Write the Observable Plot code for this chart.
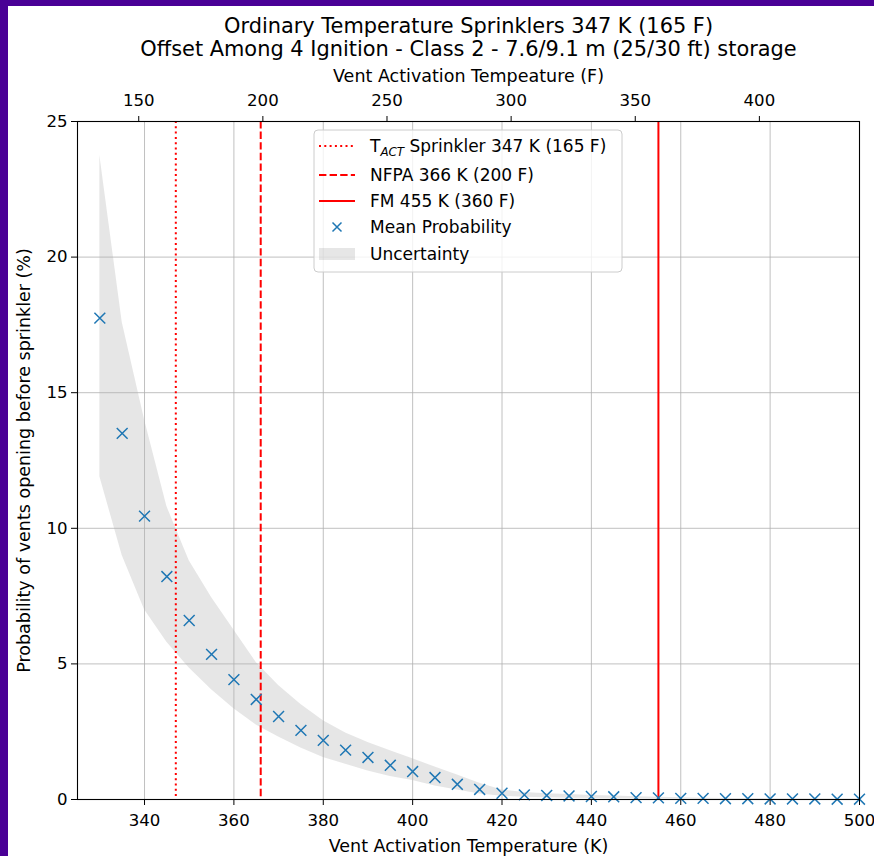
<!DOCTYPE html>
<html>
<head>
<meta charset="utf-8">
<script src="https://cdn.jsdelivr.net/npm/d3@7"></script>
<script src="https://cdn.jsdelivr.net/npm/@observablehq/plot@0.6"></script>
<style>
  html, body { margin: 0; padding: 0; background: #4a0096; }
  #c { position: absolute; left: 8px; top: 6px; width: 866px; height: 850px; background: white; overflow: hidden; }
  svg { font-family: "DejaVu Sans", sans-serif; }
</style>
</head>
<body>
<div id="c"></div>
<script>
// Vent activation temperature (K)
const tempK = [330,335,340,345,350,355,360,365,370,375,380,385,390,395,400,405,410,415,420,425,430,435,440,445,450,455,460,465,470,475,480,485,490,495,500];
// Mean probability (%)
const meanProb = [17.75,13.5,10.45,8.22,6.6,5.35,4.42,3.69,3.06,2.55,2.18,1.82,1.55,1.26,1.03,0.81,0.56,0.37,0.23,0.17,0.15,0.13,0.11,0.1,0.07,0.06,0.04,0.04,0.03,0.03,0.02,0.02,0.02,0.01,0.01];
// Uncertainty band upper / lower (%)
const upperProb = [23.75,17.6,14.0,10.8,8.8,7.45,6.25,5.05,4.2,3.5,2.9,2.45,2.1,1.8,1.5,1.2,0.9,0.6,0.35,0.26,0.21,0.18,0.15,0.13,0.1,0.08,0.06,0.05,0.04,0.04,0.03,0.03,0.02,0.02,0.02];
const lowerProb = [11.9,9.0,7.0,5.8,4.85,4.05,3.35,2.75,2.3,1.9,1.55,1.3,1.05,0.85,0.7,0.5,0.35,0.2,0.12,0.08,0.06,0.05,0.04,0.03,0.03,0.02,0.02,0.01,0.01,0.01,0.01,0.01,0.0,0.0,0.0];
// Reference temperatures (K)
const sprinklerK = [347];
const nfpaK = [366];
const fmK = [455];
// Ticks
const kTicks = [340,360,380,400,420,440,460,480,500];
const fTicks = [150,200,250,300,350,400];
const yTicks = [0,5,10,15,20,25];
const titleLines = ["Ordinary Temperature Sprinklers 347 K (165 F)", "Offset Among 4 Ignition - Class 2 - 7.6/9.1 m (25/30 ft) storage"];
const legendLabels = ["Sprinkler 347 K (165 F)", "NFPA 366 K (200 F)", "FM 455 K (360 F)", "Mean Probability", "Uncertainty"];

const data = tempK.map((k, i) => ({k, mean: meanProb[i], hi: upperProb[i], lo: lowerProb[i]}));
const fToK = f => (f - 32) * 5 / 9 + 273.15;
const fTicksK = fTicks.map(fToK);

const grid = {stroke: "#b0b0b0", strokeOpacity: 1, strokeWidth: 0.8};
const tickFs = 16.6, labelFs = 17.5, titleFs = 20.9, legendFs = 17;

const chart = Plot.plot({
  width: 866, height: 850,
  marginLeft: 69, marginRight: 15, marginTop: 115, marginBottom: 57,
  style: {fontFamily: "DejaVu Sans", fontSize: tickFs + "px", background: "white", color: "black"},
  x: {domain: [325, 500]},
  y: {domain: [0, 25]},
  marks: [
    Plot.areaY(data, {x: "k", y1: "lo", y2: "hi", fill: "gray", fillOpacity: 0.2}),
    Plot.gridX(kTicks, grid),
    Plot.gridY(yTicks, grid),
    Plot.ruleX(sprinklerK, {stroke: "red", strokeWidth: 2, strokeDasharray: "2,3.3"}),
    Plot.ruleX(nfpaK, {stroke: "red", strokeWidth: 2, strokeDasharray: "7.4,3.2"}),
    Plot.ruleX(fmK, {stroke: "red", strokeWidth: 2}),
    Plot.dot(data, {x: "k", y: "mean", symbol: "times", stroke: "#1f77b4", r: 5, strokeWidth: 1.5}),
    Plot.frame({stroke: "black", strokeWidth: 1.1}),
    Plot.axisX(kTicks, {anchor: "bottom", label: null, tickSize: 6, tickPadding: 9, fontSize: tickFs}),
    Plot.axisX(fTicksK, {anchor: "top", label: null, tickSize: 6, tickPadding: 10, fontSize: tickFs, tickFormat: (d, i) => String(fTicks[i])}),
    Plot.axisY(yTicks, {anchor: "left", label: null, tickSize: 6, tickPadding: 4, fontSize: tickFs}),
    Plot.text(["Vent Activation Temperature (K)"], {frameAnchor: "bottom", dy: 52, fontSize: labelFs}),
    Plot.text(["Vent Activation Tempeature (F)"], {frameAnchor: "top", dy: -52, fontSize: labelFs}),
    Plot.text(["Probability of vents opening before sprinkler (%)"], {frameAnchor: "left", textAnchor: "middle", dx: -53, rotate: -90, fontSize: labelFs}),
    Plot.text([titleLines[0]], {frameAnchor: "top", dy: -103, fontSize: titleFs}),
    Plot.text([titleLines[1]], {frameAnchor: "top", dy: -80, fontSize: titleFs})
  ]
});
document.getElementById("c").appendChild(chart);

// Legend
const svg = d3.select(chart);
const lg = svg.append("g").attr("font-family", "DejaVu Sans").attr("font-size", legendFs).attr("text-anchor", "start");
lg.append("rect").attr("x", 306).attr("y", 124).attr("width", 308).attr("height", 142)
  .attr("rx", 4).attr("fill", "white").attr("fill-opacity", 0.8).attr("stroke", "#cccccc");
const rows = [140, 169, 195, 221, 248];
const hx0 = 311, hx1 = 347, tx = 362;
lg.append("line").attr("x1", hx0).attr("x2", hx1).attr("y1", rows[0]).attr("y2", rows[0]).attr("stroke", "red").attr("stroke-width", 2).attr("stroke-dasharray", "2,3.3");
lg.append("line").attr("x1", hx0).attr("x2", hx1).attr("y1", rows[1]).attr("y2", rows[1]).attr("stroke", "red").attr("stroke-width", 2).attr("stroke-dasharray", "7.4,3.2");
lg.append("line").attr("x1", hx0).attr("x2", hx1).attr("y1", rows[2]).attr("y2", rows[2]).attr("stroke", "red").attr("stroke-width", 2);
const mx = (hx0 + hx1) / 2, my = rows[3], s = 4.5;
lg.append("path").attr("d", `M${mx - s},${my - s}L${mx + s},${my + s}M${mx - s},${my + s}L${mx + s},${my - s}`).attr("stroke", "#1f77b4").attr("stroke-width", 1.5);
lg.append("rect").attr("x", hx0).attr("y", rows[4] - 6).attr("width", hx1 - hx0).attr("height", 12).attr("fill", "gray").attr("fill-opacity", 0.2);
const t0 = lg.append("text").attr("x", tx).attr("y", rows[0]).attr("dy", "0.35em");
t0.append("tspan").text("T");
t0.append("tspan").attr("font-style", "italic").attr("font-size", legendFs * 0.7).attr("dy", "0.3em").text("ACT");
t0.append("tspan").attr("dy", "-0.2em").text(" " + legendLabels[0]);
for (let i = 1; i < 5; i++) {
  lg.append("text").attr("x", tx).attr("y", rows[i]).attr("dy", "0.35em").text(legendLabels[i]);
}
</script>
</body>
</html>
